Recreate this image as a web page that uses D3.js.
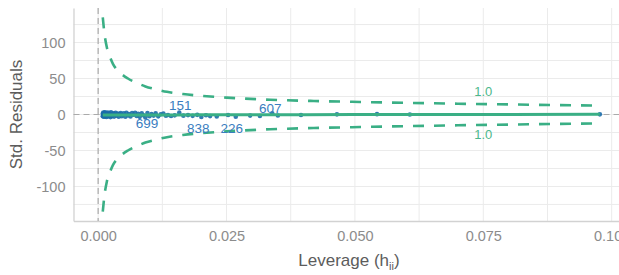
<html>
<head>
  <meta charset="utf-8">
  <title>Residuals vs leverage</title>
  <script src="https://cdn.jsdelivr.net/npm/d3@7"></script>
  <style>
    body { margin: 0; background: #fff; }
    svg text { font-family: "Liberation Sans", Arial, sans-serif; }
  </style>
</head>
<body>
<div id="chart"></div>
<script>
// leverage (hat values) and standardized residuals of the observations
var hatValues = [
  0.0009, 0.0009, 0.0010, 0.0010, 0.0011, 0.0011, 0.0012, 0.0012, 0.0013, 0.0013,
  0.0014, 0.0015, 0.0015, 0.0016, 0.0017, 0.0018, 0.0019, 0.0020, 0.0021, 0.0022,
  0.0023, 0.0024, 0.0025, 0.0027, 0.0028, 0.0030, 0.0031, 0.0033, 0.0034, 0.0036,
  0.0038, 0.0040, 0.0042, 0.0044, 0.0046, 0.0048, 0.0050, 0.0053, 0.0055, 0.0058,
  0.0060, 0.0063, 0.0066, 0.0069, 0.0072, 0.0075, 0.0078, 0.0081, 0.0085, 0.0088,
  0.0092, 0.0096, 0.0100, 0.0104, 0.0108, 0.0112, 0.0117, 0.0122, 0.0127, 0.0132,
  0.0136, 0.0142, 0.0149, 0.0158, 0.0166, 0.0175, 0.0184, 0.0193, 0.0201, 0.0210,
  0.0218, 0.0231, 0.0253, 0.0268, 0.0296, 0.0315, 0.0339, 0.0350, 0.0395, 0.0465,
  0.0543, 0.0607, 0.0977
];
var stdResiduals = [
  1.2, -2.4, 2.6, -0.9, 0.4, -3.1, 1.9, -1.6, 3.0, -2.8,
  0.8, -0.3, 2.2, -3.4, 1.1, -1.9, 2.7, -2.6, 0.2, 1.6,
  -1.2, -3.6, 2.9, -2.2, 0.9, 1.8, -2.9, -0.6, 2.4, -1.7,
  1.3, -3.2, 0.5, 2.1, -2.4, -0.8, 1.7, -3.0, 2.5, -1.3,
  0.6, -2.7, 1.9, -0.4, 2.3, -2.1, 0.9, -3.3, 1.5, -1.0,
  -4.1, 2.0, -2.3, 0.7, -1.5, 1.8, -2.6, 0.3, 1.2, -1.8,
  -0.6, -2.0, -1.2, 2.6, -1.6, -0.8, -1.9, -0.5, -3.5, -1.1,
  -2.2, -2.8, -0.7, -3.2, -1.5, -2.0, 1.8, -1.3, -0.6, 0.2,
  0.5, 0.1, 0.2
];

// loess fit through the points
var smoothHat = [0.0009, 0.0100, 0.0200, 0.0400, 0.0600, 0.0800, 0.0977];
var smoothFit = [-0.8, -0.7, -0.4, -0.2, 0.0, 0.1, 0.2];

// Cook's distance contour (level 1.0), upper branch; lower branch is its mirror
var cookHat = [0.0009, 0.0012, 0.0017, 0.0023, 0.0029, 0.0040, 0.0058, 0.0075, 0.0092, 0.0113,
  0.0134, 0.0165, 0.0200, 0.0250, 0.0335, 0.0420, 0.0510, 0.0600, 0.0700, 0.0800, 0.0900, 0.0977];
var cookUpper = [135, 114, 93, 80, 70, 60, 50, 44, 39, 35,
  31.5, 28.5, 26, 23.5, 20.5, 18.8, 17.4, 16.2, 15, 14, 13, 12.3];
var cookLevel = "1.0";
var cookLabelHat = 0.075;
var cookLabelY = [31.5, -28];

// labelled observations
var labelIds = ["151", "699", "838", "226", "607"];
var labelHat = [0.0160, 0.0095, 0.0195, 0.0260, 0.0335];
var labelResid = [13.2, -12.2, -19, -19, 8.6];

var xTicks = [0, 0.025, 0.05, 0.075, 0.1];
var xMinor = [0.0125, 0.0375, 0.0625, 0.0875];
var yTicks = [-100, -50, 0, 50, 100];
var yMinor = [-125, -75, -25, 25, 75, 125];

var W = 619, H = 275;
var padL = 73.5, padR = 624.5, padT = 8, padB = 221;

var green = "#3aaf85", blue = "#1b6ca8";

var svg = d3.select("#chart").append("svg")
  .attr("width", W)
  .attr("height", H);

var x = d3.scaleLinear().domain([-0.0048, 0.1025]).range([padL, padR]);
var y = d3.scaleLinear().domain([-148, 148]).range([padB, padT]);

// grid
var grid = svg.append("g");
grid.selectAll("line.vx")
  .data(xTicks.concat(xMinor))
  .enter().append("line")
  .attr("x1", function(d) { return x(d); })
  .attr("x2", function(d) { return x(d); })
  .attr("y1", padT).attr("y2", padB)
  .attr("stroke", "#ebebeb").attr("stroke-width", 1);
grid.selectAll("line.hy")
  .data(yTicks.concat(yMinor))
  .enter().append("line")
  .attr("x1", padL).attr("x2", padR)
  .attr("y1", function(d) { return y(d); })
  .attr("y2", function(d) { return y(d); })
  .attr("stroke", "#ebebeb").attr("stroke-width", 1);

// axes
var xAxis = svg.append("g")
  .attr("transform", "translate(0," + padB + ")")
  .call(d3.axisBottom(x).tickValues(xTicks).tickFormat(d3.format(".3f")).tickSize(0).tickPadding(10));
var yAxis = svg.append("g")
  .attr("transform", "translate(" + padL + ",0)")
  .call(d3.axisLeft(y).tickValues(yTicks).tickSize(0).tickPadding(8));
[xAxis, yAxis].forEach(function(a) {
  a.select(".domain").attr("stroke", "#d2d2d2").attr("stroke-width", 1.3);
  a.selectAll("text").attr("fill", "#8c8c8c").attr("font-size", "14.5px");
});
yAxis.selectAll("text").text(function(d) { return d; });

// reference lines
svg.append("line")
  .attr("x1", padL).attr("x2", padR)
  .attr("y1", y(0)).attr("y2", y(0))
  .attr("stroke", "#aaaaaa").attr("stroke-width", 1.2)
  .attr("stroke-dasharray", "6,4");
svg.append("line")
  .attr("x1", x(0)).attr("x2", x(0))
  .attr("y1", padT).attr("y2", padB)
  .attr("stroke", "#aaaaaa").attr("stroke-width", 1.2)
  .attr("stroke-dasharray", "6,4");

// points
svg.append("g").selectAll("circle")
  .data(hatValues)
  .enter().append("circle")
  .attr("cx", function(d) { return x(d); })
  .attr("cy", function(d, i) { return y(stdResiduals[i]); })
  .attr("r", 2.3)
  .attr("fill", blue)
  .attr("fill-opacity", 0.9);

// smooth fit
var smoothLine = d3.line()
  .x(function(d) { return x(d); })
  .y(function(d, i) { return y(smoothFit[i]); })
  .curve(d3.curveMonotoneX);
svg.append("path")
  .attr("d", smoothLine(smoothHat))
  .attr("fill", "none")
  .attr("stroke", green)
  .attr("stroke-width", 3);

// cook's distance contours
[1, -1].forEach(function(sign) {
  var cookLine = d3.line()
    .x(function(d) { return x(d); })
    .y(function(d, i) { return y(sign * cookUpper[i]); })
    .curve(d3.curveMonotoneX);
  svg.append("path")
    .attr("d", cookLine(cookHat))
    .attr("fill", "none")
    .attr("stroke", green)
    .attr("stroke-width", 2.6)
    .attr("stroke-dasharray", "11,10");
});
svg.selectAll("text.cook")
  .data(cookLabelY)
  .enter().append("text")
  .attr("class", "cook")
  .attr("x", x(cookLabelHat))
  .attr("y", function(d) { return y(d); })
  .attr("text-anchor", "middle")
  .attr("dominant-baseline", "central")
  .attr("font-size", "13px")
  .attr("fill", "#4cb88c")
  .text(cookLevel);

// observation labels
svg.selectAll("text.obs")
  .data(labelIds)
  .enter().append("text")
  .attr("class", "obs")
  .attr("x", function(d, i) { return x(labelHat[i]); })
  .attr("y", function(d, i) { return y(labelResid[i]); })
  .attr("text-anchor", "middle")
  .attr("dominant-baseline", "central")
  .attr("font-size", "13.5px")
  .attr("fill", "#3a7dc0")
  .text(function(d) { return d; });

// axis titles
var xt = svg.append("text")
  .attr("x", (padL + padR) / 2)
  .attr("y", 266)
  .attr("text-anchor", "middle")
  .attr("font-size", "17px")
  .attr("fill", "#5c5c5c");
xt.append("tspan").text("Leverage (h");
xt.append("tspan").attr("font-size", "11px").attr("dy", 4).text("ii");
xt.append("tspan").attr("dy", -4).text(")");

svg.append("text")
  .attr("transform", "translate(22," + ((padT + padB) / 2) + ") rotate(-90)")
  .attr("text-anchor", "middle")
  .attr("font-size", "17px")
  .attr("fill", "#5c5c5c")
  .text("Std. Residuals");
</script>
</body>
</html>
